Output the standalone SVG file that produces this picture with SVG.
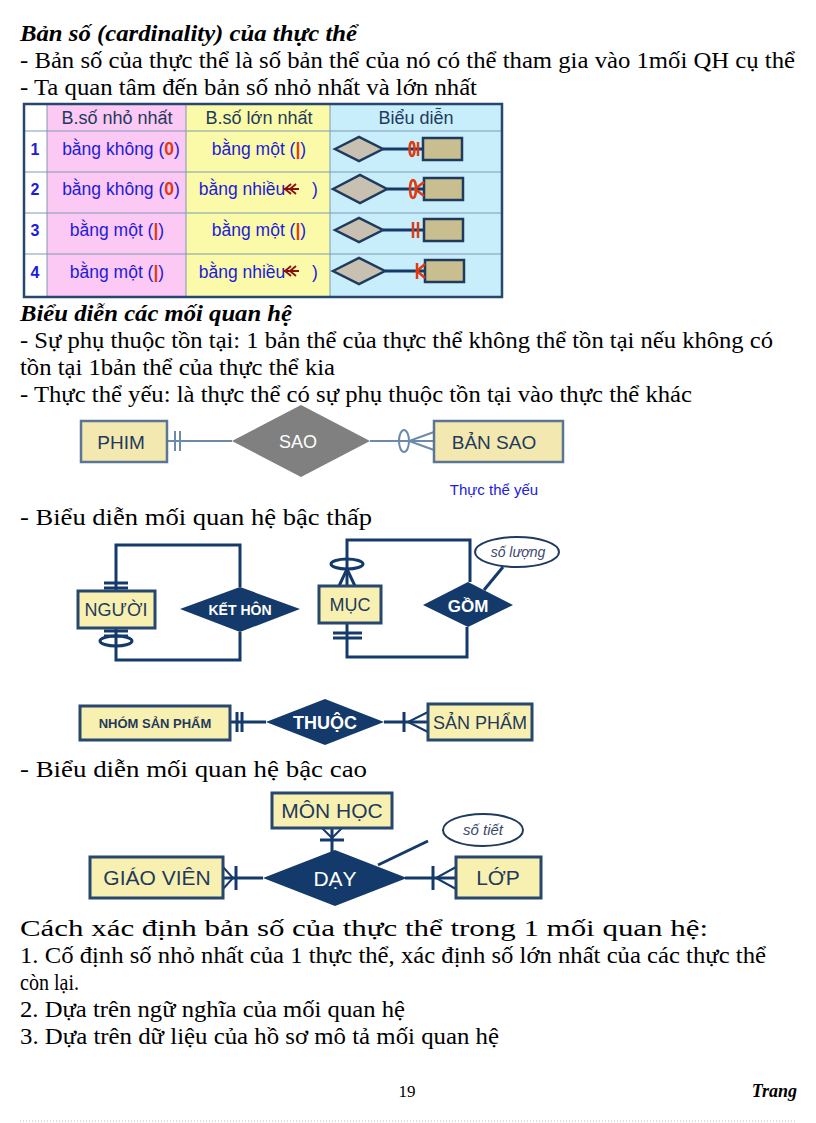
<svg xmlns="http://www.w3.org/2000/svg" width="816" height="1123" viewBox="0 0 816 1123">
<style>
.t{font-family:"Liberation Serif",serif;font-size:24px;fill:#000}
.h{font-family:"Liberation Serif",serif;font-size:24px;font-weight:bold;font-style:italic}
.c{font-family:"Liberation Sans",Arial,sans-serif;font-size:17.5px;fill:#1c1cd8;text-anchor:middle}
.hd{font-family:"Liberation Sans",Arial,sans-serif;font-size:18px;fill:#223a5c;text-anchor:middle}
.n{font-family:"Liberation Sans",Arial,sans-serif;font-size:16px;font-weight:bold;fill:#1c1cd8;text-anchor:middle}
.ent{fill:#f8f0b0;stroke:#27476e;stroke-width:3}
.et{font-family:"Liberation Sans",Arial,sans-serif;fill:#1f3a5c;text-anchor:middle}
.rel{fill:#133a6a}
.rt{font-family:"Liberation Sans",Arial,sans-serif;fill:#fff;text-anchor:middle;font-weight:bold}
.ln{stroke:#133a6a;stroke-width:3;fill:none}
.ln2{stroke:#6d8aa8;stroke-width:2;fill:none}
.red{stroke:#e03a10;stroke-width:2.5;fill:none}
</style>
<text class="h" x="20" y="41" textLength="337" lengthAdjust="spacingAndGlyphs">Bản số (cardinality) của thực thể</text>
<text class="t" x="20" y="68" textLength="775" lengthAdjust="spacingAndGlyphs">- Bản số của thực thể là số bản thể của nó có thể tham gia vào 1mối QH cụ thể</text>
<text class="t" x="20" y="95" textLength="457" lengthAdjust="spacingAndGlyphs">- Ta quan tâm đến bản số nhỏ nhất và lớn nhất</text>
<g id="table">
<rect x="24" y="104" width="478" height="193" fill="#fff"/>
<rect x="47" y="104" width="139" height="193" fill="#fcc8f4"/>
<rect x="186" y="104" width="144" height="193" fill="#fafaa8"/>
<rect x="330" y="104" width="172" height="193" fill="#c8eefc"/>
<g stroke="#7d9ab0" stroke-width="1">
<line x1="24" y1="131" x2="502" y2="131"/><line x1="24" y1="172" x2="502" y2="172"/><line x1="24" y1="213" x2="502" y2="213"/><line x1="24" y1="254" x2="502" y2="254"/>
<line x1="47" y1="104" x2="47" y2="297"/><line x1="186" y1="104" x2="186" y2="297"/><line x1="330" y1="104" x2="330" y2="297"/>
</g>
<rect x="24" y="104" width="478" height="193" fill="none" stroke="#27476e" stroke-width="2.5"/>
<text class="hd" x="117" y="124">B.số nhỏ nhất</text><text class="hd" x="259" y="124">B.số lớn nhất</text><text class="hd" x="416" y="124">Biểu diễn</text>
<text class="n" x="35" y="155">1</text><text class="n" x="35" y="195">2</text><text class="n" x="35" y="236">3</text><text class="n" x="35" y="278">4</text>
<text class="c" x="121" y="155">bằng không (<tspan fill="#e03a10" font-weight="bold">0</tspan>)</text>
<text class="c" x="121" y="195">bằng không (<tspan fill="#e03a10" font-weight="bold">0</tspan>)</text>
<text class="c" x="117" y="236">bằng một (<tspan fill="#e03a10" font-weight="bold">|</tspan>)</text>
<text class="c" x="117" y="278">bằng một (<tspan fill="#e03a10" font-weight="bold">|</tspan>)</text>
<text class="c" x="259" y="155">bằng một (<tspan fill="#e03a10" font-weight="bold">|</tspan>)</text>
<text class="c" x="259" y="236">bằng một (<tspan fill="#e03a10" font-weight="bold">|</tspan>)</text>
<text class="c" x="242" y="195">bằng nhiều</text><text class="c" x="315" y="195">)</text>
<text class="c" x="242" y="278">bằng nhiều</text><text class="c" x="315" y="278">)</text>
<g stroke="#8a1010" stroke-width="1.8" fill="none"><path d="M283 189h16M291 184l-6 5 6 5M296 184l-6 5 6 5"/><path d="M283 271h16M291 266l-6 5 6 5M296 266l-6 5 6 5"/></g>
<g id="sym1"><path d="M335 149l24-12 24 12-24 12z" fill="#c8c0b0" stroke="#1f3a5c" stroke-width="2.5"/><line x1="383" y1="149" x2="423" y2="149" class="ln"/><rect x="423" y="138" width="39" height="22" fill="#c8be90" stroke="#1f3a5c" stroke-width="2.5"/><ellipse cx="412" cy="149" rx="2.5" ry="7" class="red"/><line x1="418" y1="142" x2="418" y2="156" class="red"/></g>
<g id="sym2"><path d="M333 189l27-14 27 14-27 14z" fill="#c8c0b0" stroke="#1f3a5c" stroke-width="2.5"/><line x1="387" y1="189" x2="424" y2="189" class="ln"/><rect x="424" y="178" width="39" height="22" fill="#c8be90" stroke="#1f3a5c" stroke-width="2.5"/><ellipse cx="413" cy="189" rx="3" ry="9" class="red"/><path d="M424 182l-9 7 9 7" class="red"/></g>
<g id="sym3"><path d="M335 230l24-12 24 12-24 12z" fill="#c8c0b0" stroke="#1f3a5c" stroke-width="2.5"/><line x1="383" y1="230" x2="424" y2="230" class="ln"/><rect x="424" y="219" width="39" height="22" fill="#c8be90" stroke="#1f3a5c" stroke-width="2.5"/><line x1="413" y1="222" x2="413" y2="238" class="red"/><line x1="418" y1="222" x2="418" y2="238" class="red"/></g>
<g id="sym4"><path d="M333 271l26-13 26 13-26 13z" fill="#c8c0b0" stroke="#1f3a5c" stroke-width="2.5"/><line x1="385" y1="271" x2="425" y2="271" class="ln"/><rect x="425" y="260" width="39" height="22" fill="#c8be90" stroke="#1f3a5c" stroke-width="2.5"/><line x1="417" y1="263" x2="417" y2="279" class="red"/><path d="M425 264l-8 7 8 7" class="red"/></g>
</g>
<text class="h" x="20" y="321" textLength="272" lengthAdjust="spacingAndGlyphs">Biểu diễn các mối quan hệ</text>
<text class="t" x="20" y="348" textLength="753" lengthAdjust="spacingAndGlyphs">- Sự phụ thuộc tồn tại: 1 bản thể của thực thể không thể tồn tại nếu không có</text>
<text class="t" x="20" y="375" textLength="315" lengthAdjust="spacingAndGlyphs">tồn tại 1bản thể của thực thể kia</text>
<text class="t" x="20" y="402" textLength="672" lengthAdjust="spacingAndGlyphs">- Thực thể yếu: là thực thể có sự phụ thuộc tồn tại vào thực thể khác</text>
<g id="connectors">
<g class="ln2"><line x1="167" y1="441" x2="232" y2="441"/><line x1="175" y1="431" x2="175" y2="451"/><line x1="180" y1="431" x2="180" y2="451"/><line x1="370" y1="441" x2="434" y2="441"/><ellipse cx="404" cy="441" rx="5" ry="11"/><path d="M434 432l-25 9 25 9"/></g>
<path class="ln" d="M116 591V545H240V587M116 628V660H240V632"/>
<g class="ln"><line x1="104" y1="583" x2="128" y2="583"/><line x1="104" y1="588" x2="128" y2="588"/><line x1="104" y1="631" x2="128" y2="631"/><line x1="104" y1="636" x2="128" y2="636"/></g>
<ellipse cx="116" cy="641" rx="16" ry="5" class="ln" stroke-width="2"/>
<path class="ln" d="M347 586V540H470V582M347 623V657H467V627"/>
<ellipse cx="347" cy="564" rx="16" ry="5" class="ln" stroke-width="2"/>
<path class="ln" d="M339 586l8-17 8 17" stroke-width="2"/>
<g class="ln"><line x1="333" y1="633" x2="362" y2="633"/><line x1="333" y1="638" x2="362" y2="638"/><line x1="230" y1="722" x2="266" y2="722"/><line x1="237" y1="712" x2="237" y2="732"/><line x1="242" y1="712" x2="242" y2="732"/><line x1="384" y1="722" x2="428" y2="722"/><line x1="404" y1="712" x2="404" y2="732"/><path d="M428 712l-20 10 20 10" stroke-width="2"/></g>
<line x1="484" y1="590" x2="503" y2="567" class="ln" stroke-width="2"/>
<g class="ln"><line x1="332" y1="828" x2="332" y2="852"/><line x1="320" y1="840" x2="344" y2="840"/><path d="M322 828l10 10 10-10" stroke-width="2"/><line x1="223" y1="878" x2="263" y2="878"/><line x1="236" y1="866" x2="236" y2="890"/><path d="M223 867l10 11-10 11" stroke-width="2"/><line x1="405" y1="878" x2="456" y2="878"/><line x1="433" y1="866" x2="433" y2="890"/><path d="M456 867l-20 11 20 11" stroke-width="2"/></g>
<line x1="378" y1="865" x2="428" y2="841" class="ln" stroke-width="2"/>
</g>
<g id="phim"><rect x="81" y="421" width="86" height="41" fill="#f2e8b0" stroke="#5a7694" stroke-width="2.5"/><text class="et" x="121" y="449" font-size="19" fill="#2e4a6c">PHIM</text></g>
<g id="sao"><path d="M232 441l69-36 69 36-69 36z" fill="#808080"/><text x="298" y="448" font-family="Liberation Sans,sans-serif" font-size="18" fill="#fff" text-anchor="middle">SAO</text></g>
<g id="bansao"><rect x="434" y="421" width="129" height="41" fill="#f2e8b0" stroke="#5a7694" stroke-width="2.5"/><text class="et" x="494" y="449" font-size="19">BẢN SAO</text></g>
<text x="494" y="495" font-family="Liberation Sans,sans-serif" font-size="15" fill="#2020e0" text-anchor="middle">Thực thể yếu</text>
<text class="t" x="20" y="525" textLength="352" lengthAdjust="spacingAndGlyphs">- Biểu diễn mối quan hệ bậc thấp</text>
<g id="nguoi"><rect x="78" y="591" width="77" height="37" class="ent"/><text class="et" x="116" y="616" font-size="18">NGƯỜI</text></g>
<g id="kethon"><path d="M180 609l60-22 60 22-60 23z" class="rel"/><text class="rt" x="240" y="615" font-size="14">KẾT HÔN</text></g>
<g id="muc"><rect x="319" y="586" width="62" height="37" class="ent"/><text class="et" x="350" y="611" font-size="18">MỤC</text></g>
<g id="gom"><path d="M423 605l45-23 45 23-45 22z" class="rel"/><text class="rt" x="468" y="612" font-size="17">GỒM</text></g>
<g id="soluong"><ellipse cx="517" cy="552" rx="42" ry="15" fill="#fff" stroke="#1f3a5c" stroke-width="2"/><text x="518" y="557" font-family="Liberation Sans,sans-serif" font-size="14" font-style="italic" fill="#3a4a6a" text-anchor="middle">số lượng</text></g>
<g id="nhomsp"><rect x="80" y="706" width="150" height="34" class="ent"/><text class="et" x="155" y="728" font-size="13" font-weight="bold">NHÓM SẢN PHẨM</text></g>
<g id="thuoc"><path d="M266 722l59-23 59 23-59 23z" class="rel"/><text class="rt" x="325" y="729" font-size="18" font-weight="normal">THUỘC</text></g>
<g id="sanpham"><rect x="428" y="704" width="104" height="36" class="ent"/><text class="et" x="480" y="729" font-size="18">SẢN PHẨM</text></g>
<text class="t" x="20" y="777" textLength="347" lengthAdjust="spacingAndGlyphs">- Biểu diễn mối quan hệ bậc cao</text>
<g id="monhoc"><rect x="272" y="793" width="120" height="35" class="ent"/><text class="et" x="332" y="818" font-size="21">MÔN HỌC</text></g>
<g id="sotiet"><ellipse cx="483" cy="830" rx="40" ry="16" fill="#fff" stroke="#1f3a5c" stroke-width="2"/><text x="483" y="835" font-family="Liberation Sans,sans-serif" font-size="15" font-style="italic" fill="#3a4a6a" text-anchor="middle">số tiết</text></g>
<g id="giaovien"><rect x="90" y="857" width="133" height="41" class="ent"/><text class="et" x="157" y="885" font-size="21">GIÁO VIÊN</text></g>
<g id="day"><path d="M263 878l72-28 72 28-72 28z" class="rel"/><text x="335" y="886" font-family="Liberation Sans,sans-serif" font-size="21" fill="#fff" text-anchor="middle">DẠY</text></g>
<g id="lop"><rect x="456" y="857" width="85" height="41" class="ent"/><text class="et" x="498" y="885" font-size="21">LỚP</text></g>
<text class="t" x="20" y="936" textLength="688" lengthAdjust="spacingAndGlyphs">Cách xác định bản số của thực thể trong 1 mối quan hệ:</text>
<text class="t" x="20" y="963" textLength="746" lengthAdjust="spacingAndGlyphs">1. Cố định số nhỏ nhất của 1 thực thể, xác định số lớn nhất của các thực thể</text>
<text class="t" x="20" y="990" textLength="59" lengthAdjust="spacingAndGlyphs">còn lại.</text>
<text class="t" x="20" y="1017" textLength="385" lengthAdjust="spacingAndGlyphs">2. Dựa trên ngữ nghĩa của mối quan hệ</text>
<text class="t" x="20" y="1044" textLength="479" lengthAdjust="spacingAndGlyphs">3. Dựa trên dữ liệu của hồ sơ mô tả mối quan hệ</text>
<text x="407" y="1097" font-family="Liberation Serif,serif" font-size="17" text-anchor="middle">19</text>
<text x="797" y="1097" font-family="Liberation Serif,serif" font-size="18" font-weight="bold" font-style="italic" text-anchor="end">Trang</text>
<line x1="20" y1="1121" x2="796" y2="1121" stroke="#bbb" stroke-width="1" stroke-dasharray="1 2"/>
</svg>
